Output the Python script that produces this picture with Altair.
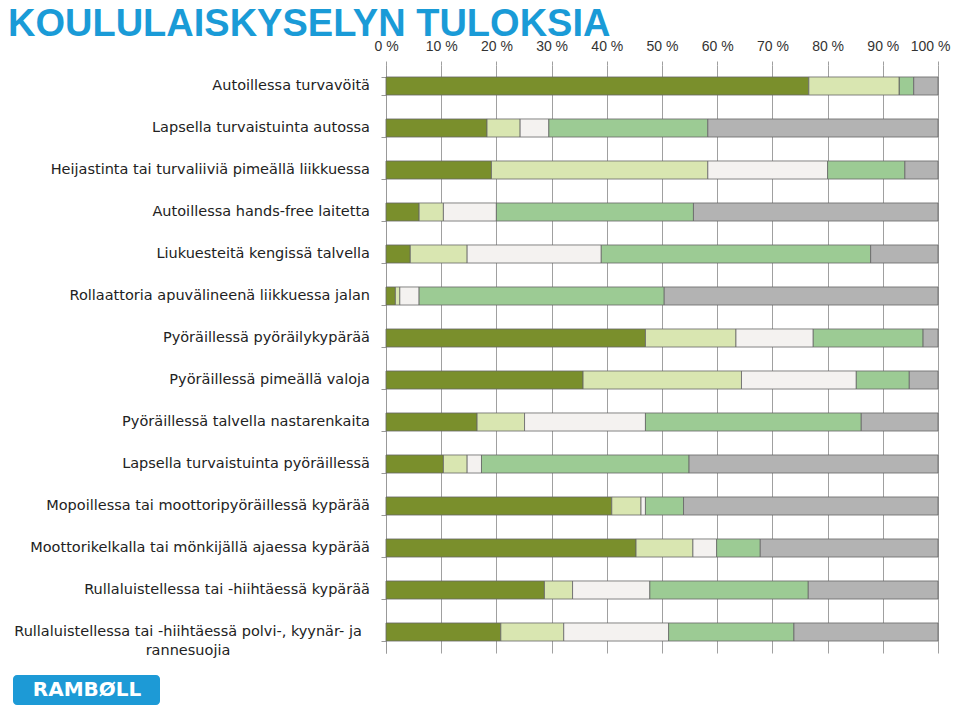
import altair as alt
import pandas as pd

title_text = "KOULULAISKYSELYN TULOKSIA"
logo_text = "RAMBØLL"

categories = [
    "Autoillessa turvavöitä",
    "Lapsella turvaistuinta autossa",
    "Heijastinta tai turvaliiviä pimeällä liikkuessa",
    "Autoillessa hands-free laitetta",
    "Liukuesteitä kengissä talvella",
    "Rollaattoria apuvälineenä liikkuessa jalan",
    "Pyöräillessä pyöräilykypärää",
    "Pyöräillessä pimeällä valoja",
    "Pyöräillessä talvella nastarenkaita",
    "Lapsella turvaistuinta pyöräillessä",
    "Mopoillessa tai moottoripyöräillessä kypärää",
    "Moottorikelkalla tai mönkijällä ajaessa kypärää",
    "Rullaluistellessa tai -hiihtäessä kypärää",
    "Rullaluistellessa tai -hiihtäessä polvi-, kyynär- ja rannesuojia",
]
label_lines = categories[:-1] + [
    "Rullaluistellessa tai -hiihtäessä polvi-, kyynär- ja\nrannesuojia"
]

series = ["s1", "s2", "s3", "s4", "s5"]
s1 = [76.6, 18.3, 19.1, 6.0, 4.4, 1.7, 47.0, 35.7, 16.5, 10.4, 40.9, 45.3, 28.7, 20.8]
s2 = [16.4, 6.0, 39.2, 4.4, 10.3, 0.8, 16.4, 28.7, 8.6, 4.3, 5.3, 10.3, 5.1, 11.4]
s3 = [0.0, 5.2, 21.7, 9.6, 24.3, 3.5, 14.0, 20.8, 21.9, 2.6, 0.8, 4.3, 14.0, 19.0]
s4 = [2.6, 28.8, 14.0, 35.7, 48.8, 44.4, 19.9, 9.6, 39.1, 37.6, 6.9, 7.9, 28.7, 22.7]
s5 = [4.4, 41.7, 6.0, 44.3, 12.2, 49.6, 2.7, 5.2, 13.9, 45.1, 46.1, 32.2, 23.5, 26.1]
colors = ["#7a8f2c", "#d9e6b1", "#f4f2f0", "#9ccb94", "#b3b3b3"]
x_ticks = list(range(0, 101, 10))

rows = []
for si, (name, vals) in enumerate(zip(series, [s1, s2, s3, s4, s5])):
    for c, v in zip(categories, vals):
        rows.append({"cat": c, "series": name, "order": si, "value": v})
df = pd.DataFrame(rows)

lab_df = pd.DataFrame({"cat": categories, "label": label_lines,
                       "last": [False] * (len(categories) - 1) + [True]})

yscale = alt.Scale(paddingInner=0.57, paddingOuter=0.285)

bars = alt.Chart(df).mark_bar(stroke="#666666", strokeWidth=0.8).encode(
    x=alt.X("value:Q", stack="zero",
            scale=alt.Scale(domain=[0, 100], nice=False),
            axis=alt.Axis(orient="top", values=x_ticks, labelExpr="datum.value + ' %'",
                          title=None, domain=False, tickSize=4, tickColor="#a0a0a0",
                          grid=True, gridColor="#a0a0a0", gridWidth=1,
                          labelOverlap=False, labelFlush=True, labelFlushOffset=12,
                          labelPadding=8, labelFont="Liberation Sans", labelFontSize=14,
                          labelColor="#333333")),
    y=alt.Y("cat:N", sort=categories, scale=yscale,
            axis=alt.Axis(title=None, labels=False, domain=True, domainColor="#999999",
                          ticks=True, tickBand="extent", tickSize=5, tickColor="#999999",
                          grid=False)),
    color=alt.Color("series:N", scale=alt.Scale(domain=series, range=colors), legend=None),
    order=alt.Order("order:Q"),
)

labels_right = alt.Chart(lab_df).transform_filter("!datum.last").mark_text(
    align="right", baseline="middle", font="DejaVu Sans", fontSize=14.5, color="#222222"
).encode(
    y=alt.Y("cat:N", sort=categories),
    x=alt.value(-16),
    text="label:N",
)

labels_last = alt.Chart(lab_df).transform_filter("datum.last").mark_text(
    align="center", baseline="middle", font="DejaVu Sans", fontSize=14.5, color="#222222",
    lineBreak="\n", lineHeight=19
).encode(
    y=alt.Y("cat:N", sort=categories),
    x=alt.value(-198),
    text="label:N",
)

title = alt.Chart(pd.DataFrame({"t": [title_text]})).mark_text(
    align="left", baseline="alphabetic", font="Liberation Sans", fontWeight="bold",
    fontSize=38, color="#1a9bd7"
).encode(x=alt.value(-378), y=alt.value(-29), text="t:N")

logo_box = alt.Chart(pd.DataFrame({"t": [logo_text]})).mark_rect(
    color="#1d9ad6", cornerRadius=4
).encode(x=alt.value(-373), x2=alt.value(-226), y=alt.value(610), y2=alt.value(640))

logo_txt = alt.Chart(pd.DataFrame({"t": [logo_text]})).mark_text(
    align="center", baseline="middle", font="DejaVu Sans", fontWeight="bold",
    fontSize=20, color="white"
).encode(x=alt.value(-299), y=alt.value(625), text="t:N")

chart = alt.layer(bars, labels_right, labels_last, title, logo_box, logo_txt).properties(
    width=552, height=588,
    autosize=alt.AutoSizeParams(type="none"),
    padding={"left": 378, "top": 57, "right": 14, "bottom": 52},
).configure_view(stroke=None)

chart.save("out.html", embed_options={"renderer": "svg", "actions": False})
